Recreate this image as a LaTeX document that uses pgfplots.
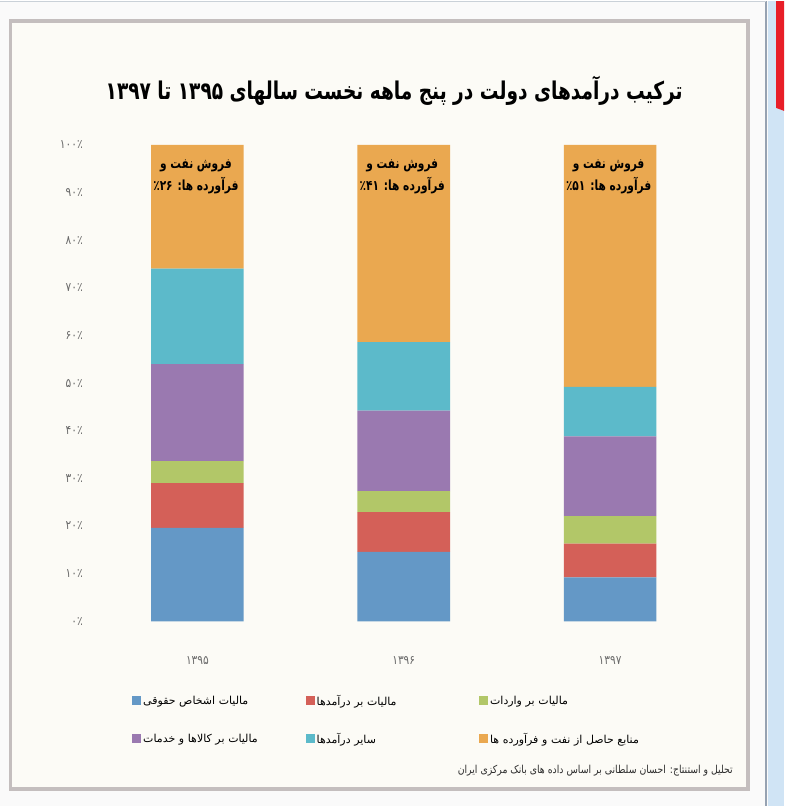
\documentclass[border=0pt]{standalone}
\usepackage{pgfplots}
\pgfplotsset{compat=1.18}
\usepackage{pgfplotstable}
\usepackage{fontspec}
\TeXXeTstate=1
\newfontfamily\ar[Script=Arabic]{DejaVu Sans}
\newfontfamily\arb[Script=Arabic,FakeStretch=0.76]{DejaVu Sans Bold}
\newfontfamily\arc[Script=Arabic,FakeStretch=0.85]{DejaVu Sans}
\definecolor{cBlue}{RGB}{100,152,198}
\definecolor{cRed}{RGB}{212,96,88}
\definecolor{cGreen}{RGB}{178,199,104}
\definecolor{cPurple}{RGB}{154,121,176}
\definecolor{cCyan}{RGB}{92,186,202}
\definecolor{cOrange}{RGB}{234,168,80}
\definecolor{cardbg}{RGB}{252,251,246}
\definecolor{cardline}{RGB}{196,190,190}
\definecolor{outerbg}{RGB}{250,250,250}
\definecolor{outerline}{RGB}{150,162,178}
\definecolor{stripblue}{RGB}{208,228,245}
\definecolor{stripred}{RGB}{232,30,40}
\definecolor{tickgray}{RGB}{105,105,105}
\definecolor{srcgray}{RGB}{45,45,45}

\pgfplotstableread{
x blue red green purple cyan orange
0 19.6 9.4 4.6 20.4 20.0 26.0
1 14.6 8.3 4.4 16.9 14.4 41.4
2 9.2 7.1 5.8 16.7 10.4 50.8
}\data

\begin{document}
\begin{tikzpicture}[x=1pt,y=1pt]
\fill[outerbg] (0,0) rectangle (786,807);
\fill[stripblue] (770,0) rectangle (786,807);
\fill[stripred] (778,807) -- (786,807) -- (786,697) -- (778,700) -- cycle;
\draw[line width=2.5pt, outerline] (768,0) -- (768,807);
\draw[line width=1pt, outerline!50] (0,806.5) -- (768,806.5);
\filldraw[fill=cardbg, draw=cardline, line width=3.5pt] (10,17) rectangle (750,787);

\begin{axis}[
  at={(94pt,185pt)}, anchor=south west,
  scale only axis, width=621pt, height=478pt,
  xmin=-0.5, xmax=2.5, ymin=0, ymax=100,
  ybar stacked, bar width=93pt,
  axis line style={draw=none},
  major tick length=0pt,
  xtick={0,1,2},
  xticklabels={{\arc ۱۳۹۵},{\arc ۱۳۹۶},{\arc ۱۳۹۷}},
  xticklabel style={font=\arc\fontsize{12.5}{14}\selectfont, text=tickgray, yshift=-32pt},
  ytick={0,10,...,100},
  yticklabels={{\arc ۰٪},{\arc ۱۰٪},{\arc ۲۰٪},{\arc ۳۰٪},{\arc ۴۰٪},{\arc ۵۰٪},{\arc ۶۰٪},{\arc ۷۰٪},{\arc ۸۰٪},{\arc ۹۰٪},{\arc ۱۰۰٪}},
  yticklabel style={font=\arc\fontsize{12.5}{14}\selectfont, text=tickgray, xshift=-8pt},
  legend columns=3,
  legend style={at={(0.0563,-0.148)}, anchor=north west, draw=none, fill=none,
    font=\ar\fontsize{11}{13}\selectfont, row sep=24pt,
    nodes={text width=161pt, align=left, inner ysep=1pt, inner xsep=2pt}},
  legend image code/.code={\fill[#1] (0pt,-4.5pt) rectangle (9pt,4.5pt);},
]
\addplot[fill=cBlue, draw=none] table[x=x,y=blue]{\data};
\addlegendentry{\beginR مالیات اشخاص حقوقی\endR}
\addplot[fill=cRed, draw=none] table[x=x,y=red]{\data};
\addlegendentry{\beginR مالیات بر درآمدها\endR}
\addplot[fill=cGreen, draw=none] table[x=x,y=green]{\data};
\addlegendentry{\beginR مالیات بر واردات\endR}
\addplot[fill=cPurple, draw=none] table[x=x,y=purple]{\data};
\addlegendentry{\beginR مالیات بر کالاها و خدمات\endR}
\addplot[fill=cCyan, draw=none] table[x=x,y=cyan]{\data};
\addlegendentry{\beginR سایر درآمدها\endR}
\addplot[fill=cOrange, draw=none] table[x=x,y=orange]{\data};
\addlegendentry{\beginR منابع حاصل از نفت و فرآورده ها\endR}
\end{axis}

\node[font=\arb\fontsize{14}{23}\selectfont, align=center, anchor=north, text=black] at (196,652)
  {\beginR فروش نفت و\endR\\\beginR فرآورده ها: \beginL۲۶\endL٪\endR};
\node[font=\arb\fontsize{14}{23}\selectfont, align=center, anchor=north, text=black] at (403,652)
  {\beginR فروش نفت و\endR\\\beginR فرآورده ها: \beginL۴۱\endL٪\endR};
\node[font=\arb\fontsize{14}{23}\selectfont, align=center, anchor=north, text=black] at (610,652)
  {\beginR فروش نفت و\endR\\\beginR فرآورده ها: \beginL۵۱\endL٪\endR};

\node[font=\arb\fontsize{24.5}{30}\selectfont, anchor=center] at (395,717)
  {\beginR ترکیب درآمدهای دولت در پنج ماهه نخست سالهای ۱۳۹۵ تا ۱۳۹۷\endR};
\node[font=\arc\fontsize{11}{13}\selectfont, text=srcgray, anchor=east] at (738,35)
  {\beginR تحلیل و استنتاج: احسان سلطانی بر اساس داده های بانک مرکزی ایران\endR};
\end{tikzpicture}
\end{document}
